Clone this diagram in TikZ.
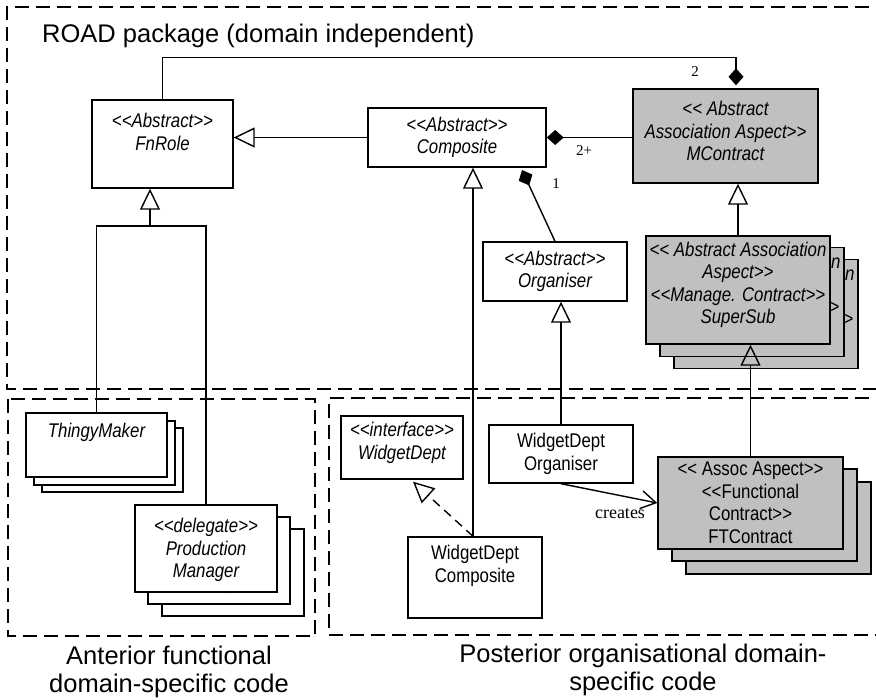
\documentclass[tikz,border=0pt]{standalone}
\usepackage{fontspec}
\setmainfont{Liberation Sans}
\newfontfamily\boxfont{Liberation Sans}[FakeStretch=0.85]
\newfontfamily\labfont{Liberation Serif}
\usetikzlibrary{arrows.meta}
\definecolor{aspectgray}{RGB}{192,192,192}
\tikzset{
  box/.style={draw, line width=1.4pt, fill=white, inner sep=0pt},
  gbox/.style={box, fill=aspectgray},
  txt/.style={font=\boxfont\fontsize{19.8}{22.5}\selectfont, align=center, inner sep=0pt},
  itx/.style={font=\boxfont\itshape\fontsize{19.8}{22.5}\selectfont, align=center, inner sep=0pt},
  pkg/.style={draw, line width=1.5pt, dash pattern=on 14pt off 7pt},
  conn/.style={line width=1.4pt},
  gen/.style={conn, -{Triangle[open, length=21pt, width=20pt, line width=1.4pt]}},
  real/.style={conn, dash pattern=on 9pt off 6pt, -{Triangle[open, length=21pt, width=20pt, line width=1.4pt, sep=0pt]}},
  compo/.style={conn, -{Diamond[length=17pt, width=15pt]}},
  compos/.style={conn, {Diamond[length=17pt, width=15pt]}-},
  mult/.style={font=\labfont\fontsize{15}{15}\selectfont, inner sep=0pt},
  title/.style={font=\fontsize{25.5}{28}\selectfont, align=center, inner sep=0pt}
}
\begin{document}
\begin{tikzpicture}[x=1pt, y=-1pt]
\useasboundingbox (0,0) rectangle (876,700);
\clip (0,0) rectangle (876,700);

% packages
\draw[pkg] (890,7) -- (7,7) -- (7,389) -- (890,389);
\draw[pkg] (8,399) rectangle (315,636);
\draw[pkg] (890,398) -- (329,398) -- (329,635) -- (890,635);
\node[title, anchor=base west] (roadT) at (42,43) {ROAD package (domain independent)};
\node[title, anchor=north] (antT) at (169,646) {Anterior functional\\domain-specific code};
\node[title, anchor=north] (postT) at (643,644) {Posterior organisational domain-\\specific code};

% ROAD package classes
\node[box, minimum width=141pt, minimum height=88pt] (fnrole) at (162.5,144) {};
\node[itx] (fnroleT) at (162.5,132) {<{}<Abstract>{}>\\FnRole};
\node[box, itx, draw, fill=white, line width=1.4pt, minimum width=178pt, minimum height=59pt] (comp) at (457,137.5) {<{}<Abstract>{}>\\Composite};
\node[gbox, minimum width=185pt, minimum height=94pt] (mc) at (725.5,136) {};
\node[itx] (mcT) at (725.5,131) {<{}< Abstract\\Association Aspect>{}>\\MContract};
\node[box, itx, draw, fill=white, line width=1.4pt, minimum width=144pt, minimum height=59pt] (org) at (555,271.5) {<{}<Abstract>{}>\\Organiser};

% SuperSub stack
\node[gbox, minimum width=184pt, minimum height=109pt] (ss3) at (766,314) {};
\node[itx] (ss3T) at (766,309) {<{}< Abstract Association\\Aspect>{}>\\<{}<Manage. Contract>{}>\\SuperSub};
\node[gbox, minimum width=184pt, minimum height=109pt] (ss2) at (752,302) {};
\node[itx] (ss2T) at (752,297) {<{}< Abstract Association\\Aspect>{}>\\<{}<Manage. Contract>{}>\\SuperSub};
\node[gbox, minimum width=184pt, minimum height=108pt] (ss) at (738,290) {};
\node[itx] (ssT) at (738,285) {<{}< Abstract Association\\Aspect>{}>\\<{}<Manage. Contract>{}>\\SuperSub};

% Anterior classes
\node[box, minimum width=141pt, minimum height=64pt] (tm3) at (112.5,460) {};
\node[box, minimum width=141pt, minimum height=64pt] (tm2) at (104.5,453) {};
\node[box, minimum width=141pt, minimum height=64pt] (tm) at (96.5,445) {};
\node[itx] (tmT) at (96.5,432) {ThingyMaker};

\node[box, minimum width=142pt, minimum height=87pt] (pm3) at (233,572.5) {};
\node[itx] (pm3T) at (233,574) {<{}<delegate>{}>\\Production\\Manager};
\node[box, minimum width=142pt, minimum height=87pt] (pm2) at (219,560.5) {};
\node[itx] (pm2T) at (219,562) {<{}<delegate>{}>\\Production\\Manager};
\node[box, minimum width=142pt, minimum height=87pt] (pm) at (206,548.5) {};
\node[itx] (pmT) at (206,550) {<{}<delegate>{}>\\Production\\Manager};

% Posterior classes
\node[box, minimum width=122pt, minimum height=63pt] (wdi) at (402,447.5) {};
\node[itx] (wdiT) at (402,443) {<{}<interface>{}>\\WidgetDept};
\node[box, minimum width=134pt, minimum height=81pt] (wdc) at (475,577.5) {};
\node[txt] (wdcT) at (475,566) {WidgetDept\\Composite};
\node[box, txt, draw, fill=white, line width=1.4pt, minimum width=144pt, minimum height=58pt] (wdo) at (561,454) {WidgetDept\\Organiser};

\node[gbox, minimum width=185pt, minimum height=92pt] (ft3) at (778.5,528) {};
\node[gbox, minimum width=185pt, minimum height=92pt] (ft2) at (764.5,515) {};
\node[gbox, txt, draw, line width=1.4pt, minimum width=185pt, minimum height=92pt] (ft) at (750.5,503) {<{}< Assoc Aspect>{}>\\<{}<Functional\\Contract>{}>\\FTContract};

% connectors
\draw[compo] (fnrole.north) -- ++(0,-42) -| ([xshift=10.5pt, yshift=3pt]mc.north);
\node[mult] (m2) at (695,72) {2};
\draw[compos] (comp.east) -- (mc.west |- comp.east);
\node[mult] (m2p) at (584,151) {2+};
\coordinate (d1) at (522,170);
\draw[compos] (d1) -- (org.north);
\node[mult] (m1) at (556,184) {1};

\draw[gen] (comp.west) -- (fnrole.east |- comp.west);
\draw[gen] ([xshift=-2pt]wdc.north) -- ([xshift=-2pt]wdc.north |- comp.south);
\draw[gen] (ss.north) -- (ss.north |- mc.south);
\draw[gen] (ft.north) -- (ft.north |- ss.south);
\draw[gen] (wdo.north) -- (wdo.north |- org.south);

\coordinate (j) at (150,226);
\draw[gen] (j) -- (j |- fnrole.south);
\draw[conn] (tm.north) |- (j);
\draw[conn] (pm.north) |- (j);

\draw[real] ([xshift=-2pt]wdc.north) -- ([xshift=11pt, yshift=-2pt]wdi.south);
\draw[conn, -{Straight Barb[length=15pt, width=18pt, line width=1.4pt]}] (wdo.south) -- (ft.west);
\node[font=\labfont\fontsize{18}{18}\selectfont, inner sep=0pt] (creates) at (620,514) {creates};
\end{tikzpicture}
\end{document}
